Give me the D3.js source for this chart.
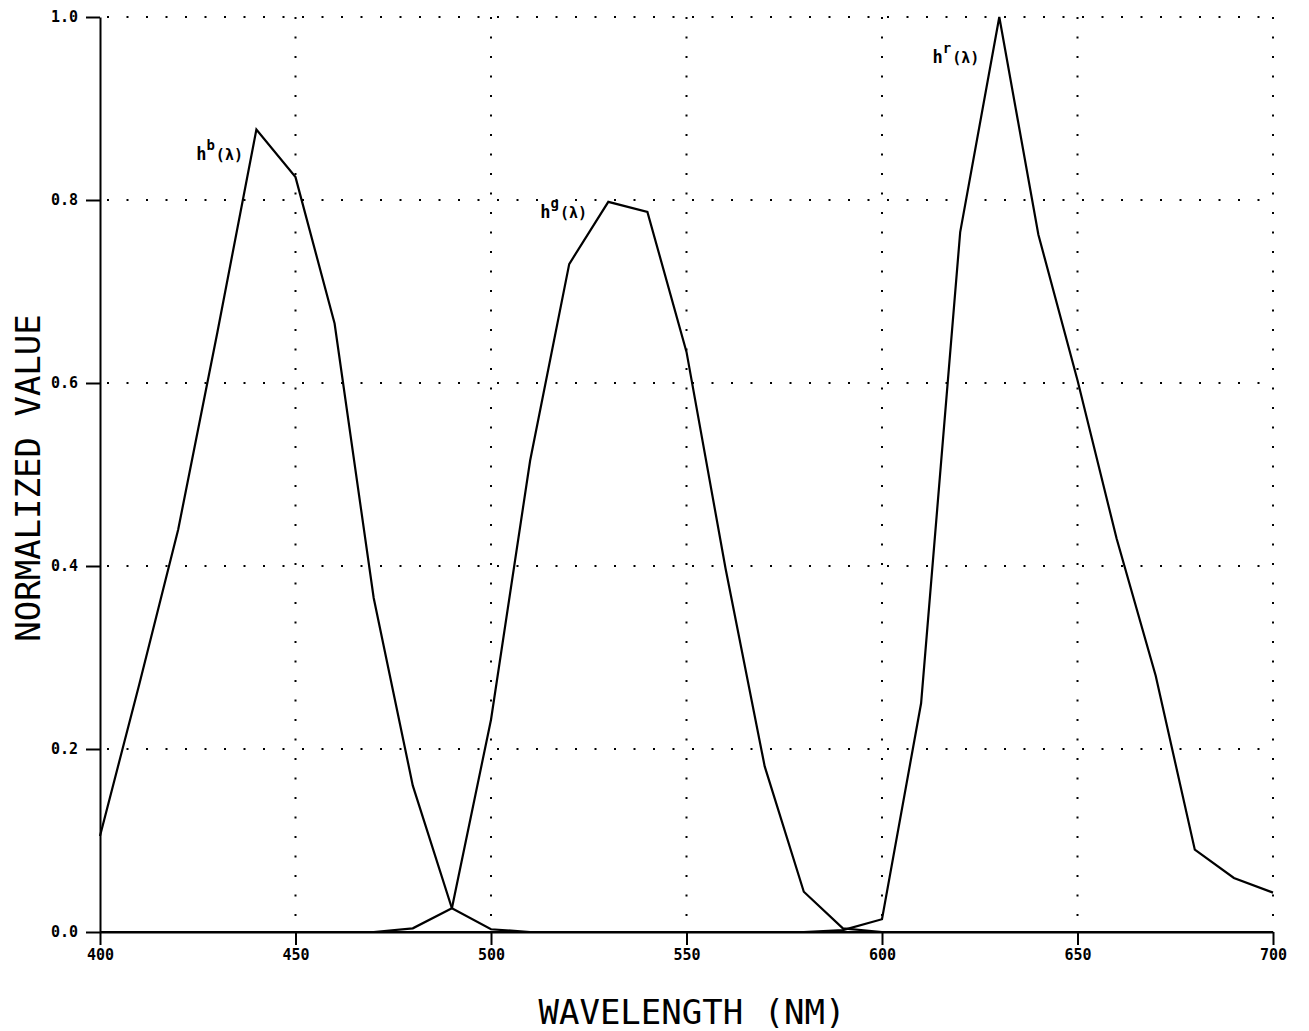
<!DOCTYPE html>
<meta charset="utf-8">
<style>
body {
  margin: 0;
  background: #fff;
}
.axis text {
  font: bold 15px "DejaVu Sans Mono", monospace;
  fill: #000;
}
.axis path,
.axis line {
  fill: none;
  stroke: #000;
  stroke-width: 2;
}
.grid line {
  stroke: #000;
  stroke-width: 2;
  stroke-dasharray: 2 17.5;
}
.curve {
  fill: none;
  stroke: #000;
  stroke-width: 2.2;
  stroke-linejoin: miter;
}
.title {
  font: 34px "DejaVu Sans Mono", monospace;
  fill: #000;
  text-anchor: middle;
}
.curve_label {
  font: bold 17px "DejaVu Sans Mono", monospace;
  fill: #000;
}
</style>
<svg class="chart"></svg>
<script src="https://d3js.org/d3.v7.min.js"></script>
<script>

var wavelengths = [400, 410, 420, 430, 440, 450, 460, 470, 480, 490, 500,
                   510, 520, 530, 540, 550, 560, 570, 580, 590, 600,
                   610, 620, 630, 640, 650, 660, 670, 680, 690, 700];

var blueValues = [0.105, 0.27, 0.44, 0.655, 0.877, 0.825, 0.665, 0.365, 0.16, 0.026, 0.003,
                  0, 0, 0, 0, 0, 0, 0, 0, 0, 0,
                  0, 0, 0, 0, 0, 0, 0, 0, 0, 0];

var greenValues = [0, 0, 0, 0, 0, 0, 0, 0, 0.004, 0.026, 0.232,
                   0.515, 0.73, 0.798, 0.787, 0.634, 0.397, 0.181, 0.044, 0.004, 0,
                   0, 0, 0, 0, 0, 0, 0, 0, 0, 0];

var redValues = [0, 0, 0, 0, 0, 0, 0, 0, 0, 0, 0,
                 0, 0, 0, 0, 0, 0, 0, 0, 0.002, 0.014,
                 0.25, 0.765, 1.0, 0.762, 0.603, 0.43, 0.28, 0.09, 0.059, 0.043];

var xTicks = [400, 450, 500, 550, 600, 650, 700];
var yTicks = [0, 0.2, 0.4, 0.6, 0.8, 1.0];

var curveNames = ["b", "g", "r"];
var labelWavelengths = [424.6, 512.6, 612.9];
var labelValues = [0.844, 0.780, 0.950];

var xTitle = "WAVELENGTH (NM)";
var yTitle = "NORMALIZED VALUE";

var width = 1309,
    height = 1031;

var x = d3.scaleLinear()
            .domain([400, 700])
            .range([100, 1273]);
var y = d3.scaleLinear()
            .domain([0, 1])
            .range([932, 17]);

var chart = d3.select(".chart")
                .attr("width", width)
                .attr("height", height);

// dotted grid
var grid = chart.append("g").attr("class", "grid");
grid.selectAll(".hgrid")
    .data(yTicks.filter(function(d){return d > 0;}))
    .enter()
    .append("line")
        .attr("class", "hgrid")
        .attr("x1", x(400) + 7)
        .attr("x2", x(700))
        .attr("y1", function(d){return y(d);})
        .attr("y2", function(d){return y(d);});
grid.selectAll(".vgrid")
    .data(xTicks.filter(function(d){return d > 400;}))
    .enter()
    .append("line")
        .attr("class", "vgrid")
        .attr("x1", function(d){return x(d);})
        .attr("x2", function(d){return x(d);})
        .attr("y1", y(1))
        .attr("y2", y(0) - 4);

var xAxis = d3.axisBottom(x)
                .tickValues(xTicks)
                .tickSize(13)
                .tickSizeOuter(0)
                .tickPadding(4)
                .tickFormat(d3.format("d"));
var yAxis = d3.axisLeft(y)
                .tickValues(yTicks)
                .tickSize(14)
                .tickSizeOuter(0)
                .tickPadding(8)
                .tickFormat(d3.format(".1f"));

chart.append("g")
        .attr("class", "x axis")
        .attr("transform", "translate(0," + y(0) + ")")
        .call(xAxis);

chart.append("g")
        .attr("class", "y axis")
        .attr("transform", "translate(" + x(400) + ",0)")
        .call(yAxis);

var line = d3.line()
                .x(function(d){return x(d[0]);})
                .y(function(d){return y(d[1]);});

[blueValues, greenValues, redValues].forEach(function(vals){
    chart.append("path")
            .attr("class", "curve")
            .attr("d", line(wavelengths.map(function(w, i){return [w, vals[i]];})));
});

// curve labels h^b(λ), h^g(λ), h^r(λ)
var labels = chart.append("g")
                .selectAll("text")
                .data(curveNames)
                .enter()
                .append("text")
                    .attr("class", "curve_label")
                    .attr("x", function(d, i){return x(labelWavelengths[i]);})
                    .attr("y", function(d, i){return y(labelValues[i]);});
labels.append("tspan").text("h");
labels.append("tspan")
        .attr("dy", -10)
        .style("font-size", "14px")
        .text(function(d){return d;});
labels.append("tspan")
        .attr("dy", 10)
        .attr("dx", 1)
        .style("font-size", "15px")
        .text("(λ)");

chart.append("text")
        .attr("class", "title")
        .attr("x", 692)
        .attr("y", 1024)
        .text(xTitle);

chart.append("text")
        .attr("class", "title")
        .attr("transform", "translate(40,478) rotate(-90)")
        .text(yTitle);
</script>
